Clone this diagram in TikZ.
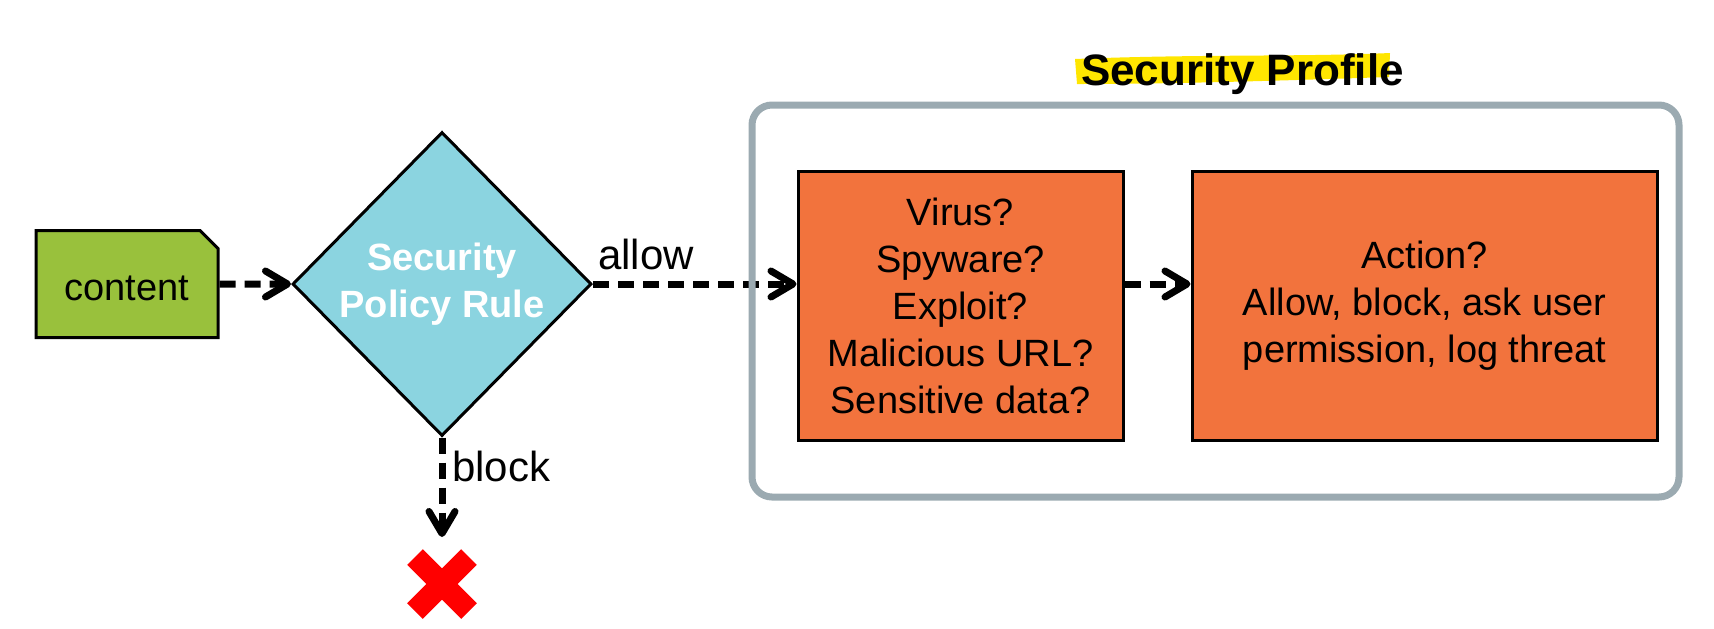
\documentclass[tikz,border=0pt]{standalone}
\usepackage{fontspec}
\setmainfont{Liberation Sans}
\usetikzlibrary{shapes.geometric, shapes.misc, arrows.meta}
\definecolor{leaf}{HTML}{99C13C}
\definecolor{sky}{HTML}{8BD4E0}
\definecolor{rust}{HTML}{F2733D}
\definecolor{slate}{HTML}{9BAAB1}
\definecolor{marker}{HTML}{FFE600}
\newcommand{\bodyfont}{\fontsize{19}{23.5}\selectfont}
\tikzset{%
  doc/.style    = {chamfered rectangle, chamfered rectangle corners = north east,
    chamfered rectangle xsep = 4.5pt, chamfered rectangle ysep = 4.5pt, draw,
    line width = 1.5pt, fill = leaf, minimum width = 91pt, minimum height = 53.5pt,
    inner sep = 0pt, text height = 17pt}, % Content
  rule/.style   = {diamond, draw, line width = 1.5pt, fill = sky, text = white,
    font = \bodyfont\bfseries, align = center, minimum width = 149.5pt,
    minimum height = 152pt, inner sep = 0pt}, % Policy
  block/.style  = {draw, line width = 1.5pt, fill = rust, align = center,
    minimum height = 134.5pt},
  group/.style  = {draw = slate, line width = 3.5pt, rounded corners = 10pt,
    minimum width = 463.5pt, minimum height = 196pt}, % Profile frame
  deny/.style   = {cross out, draw = red, line width = 11pt, minimum size = 27pt,
    inner sep = 0pt, outer sep = 0pt}, % Blocked
  flow/.style   = {-{Straight Barb[length = 11pt, width = 13pt, round]},
    line width = 3.5pt, dash pattern = on 8pt off 4.5pt},
  tag/.style    = {font = \fontsize{21}{25}\selectfont} % Arrow labels
}

\begin{document}
\begin{tikzpicture}[x = 0.5pt, y = -0.5pt, font = \bodyfont]
\useasboundingbox (0,0) rectangle (1714,628);
%blocks
\draw
	(127,284) node [doc] (cont) {content}
	(442,284) node [rule] (rule) {Security\\Policy Rule}
	(960.5,305.5) node [block, minimum width = 162.5pt] (scan) {Virus?\\Spyware?\\Exploit?\\Malicious URL?\\Sensitive data?}
	(1424.5,305.5) node [block, minimum width = 232.5pt] (act) {Action?\\Allow, block, ask user\\permission, log threat}
	(442,584) node [deny] (deny) {};
%title
\fill[marker] (1075,59) .. controls (1200,54) and (1300,57) .. (1390,53)
	-- (1389,77) .. controls (1300,80) and (1180,84) .. (1077,84) -- cycle;
\node[font = \fontsize{22}{26}\selectfont\bfseries, anchor = base] (title) at (1242.5,85) {Security Profile};
%lines
\draw[flow] (cont) -- (rule);
\draw[flow] (rule.east) -- node [tag, above, pos = 0.26, yshift = 2pt] {allow} (rule.east -| scan.west);
\draw[flow] (scan.east |- rule.east) -- (act.west |- rule.east);
\draw[flow, shorten > = 10pt] (rule.south) -- node [tag, right, pos = 0.24] {block} (deny);
%frame
\draw (1215.5,301) node [group] (prof) {};
\end{tikzpicture}
\end{document}
